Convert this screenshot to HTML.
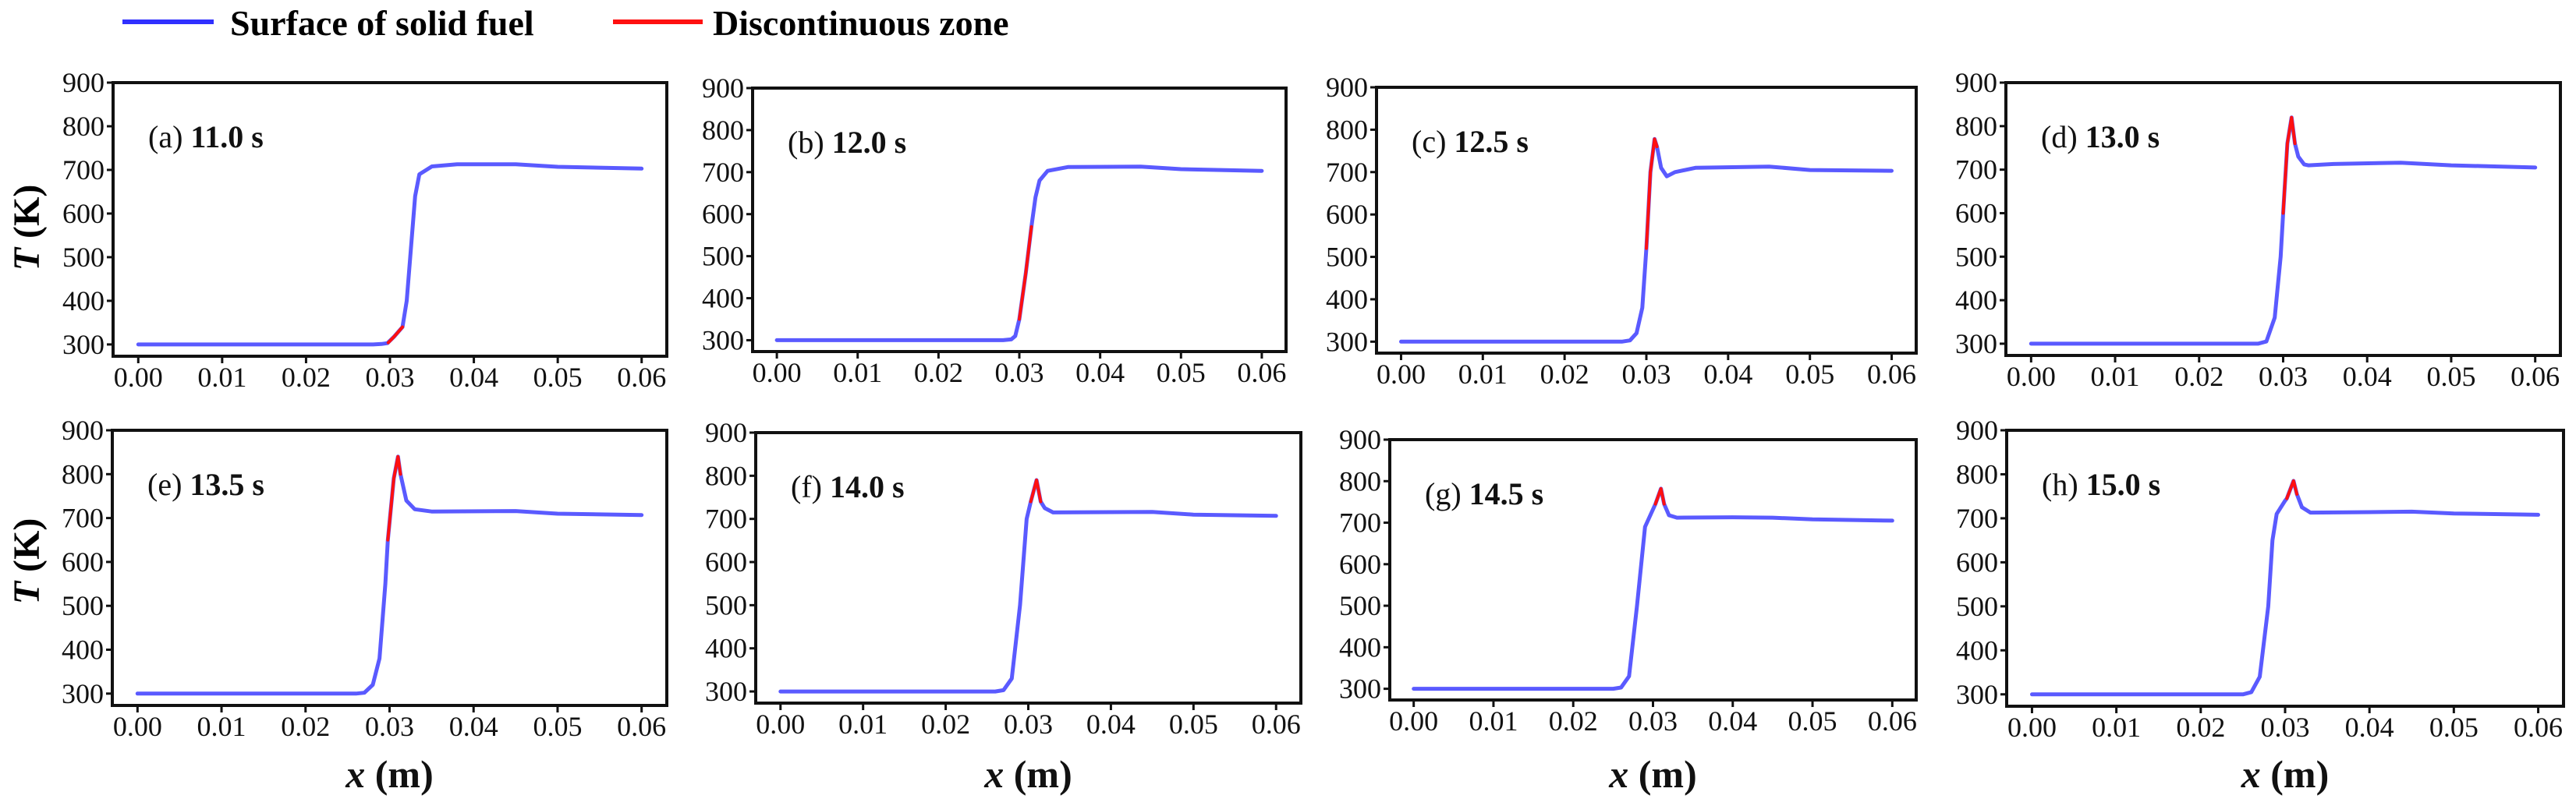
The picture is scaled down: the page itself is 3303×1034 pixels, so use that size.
<!DOCTYPE html>
<html><head><meta charset="utf-8"><style>
html,body{margin:0;padding:0;background:#fff;}
svg{display:block;font-family:"Liberation Serif",serif;}
</style></head><body>
<svg id="fig" width="3303" height="1034" viewBox="0 0 3303 1034" xmlns="http://www.w3.org/2000/svg">
  <g>
    <line x1="157" y1="28" x2="274" y2="28" stroke="#3030ff" stroke-width="6"/>
    <text x="295" y="45" font-size="46" font-weight="bold">Surface of solid fuel</text>
    <line x1="786" y1="28" x2="901" y2="28" stroke="#ff1010" stroke-width="6"/>
    <text x="914" y="45" font-size="46" font-weight="bold">Discontinuous zone</text>
  </g>
  <text transform="translate(50,292) rotate(-90)" text-anchor="middle" font-size="48" font-weight="bold"><tspan font-style="italic">T</tspan> (K)</text>
  <text transform="translate(50,720) rotate(-90)" text-anchor="middle" font-size="48" font-weight="bold"><tspan font-style="italic">T</tspan> (K)</text>
</svg>
<script>
const xTicks = [0, 0.01, 0.02, 0.03, 0.04, 0.05, 0.06];
const xTickLabels = ["0.00","0.01","0.02","0.03","0.04","0.05","0.06"];
const yTicks = [300, 400, 500, 600, 700, 800, 900];
const yTickLabels = ["300","400","500","600","700","800","900"];
const panelLabels = ["(a)","(b)","(c)","(d)","(e)","(f)","(g)","(h)"];
const panelTimes = ["11.0 s","12.0 s","12.5 s","13.0 s","13.5 s","14.0 s","14.5 s","15.0 s"];

const blueXa = [0,0.010,0.020,0.028,0.029,0.0297,0.0305,0.0315,0.0320,0.0325,0.0330,0.0335,0.0350,0.0380,0.0450,0.0500,0.0600];
const blueTa = [300,300,300,300,301,303,318,340,400,520,640,690,708,713,713,707,703];
const redXa = [0.0298,0.0305,0.0315];
const redTa = [304,318,340];

const blueXb = [0,0.010,0.020,0.028,0.029,0.0295,0.0300,0.0308,0.0315,0.0320,0.0325,0.0335,0.0360,0.0450,0.0500,0.0600];
const blueTb = [300,300,300,300,302,310,350,460,570,640,680,703,712,713,707,703];
const redXb = [0.0300,0.0308,0.0315];
const redTb = [350,460,570];

const blueXc = [0,0.010,0.020,0.027,0.028,0.0288,0.0295,0.0300,0.0305,0.0310,0.0313,0.0318,0.0325,0.0335,0.0360,0.0450,0.0500,0.0600];
const blueTc = [300,300,300,300,303,320,380,520,700,778,760,710,690,700,710,713,705,703];
const redXc = [0.0300,0.0305,0.0310,0.0313];
const redTc = [520,700,778,760];

const blueXd = [0,0.010,0.020,0.027,0.028,0.029,0.0297,0.0300,0.0305,0.0310,0.0314,0.0318,0.0325,0.0330,0.0360,0.0440,0.0500,0.0600];
const blueTd = [300,300,300,300,305,360,500,600,760,820,760,730,712,710,713,716,710,705];
const redXd = [0.0300,0.0305,0.0310,0.0314];
const redTd = [600,760,820,760];

const blueXe = [0,0.010,0.020,0.026,0.027,0.028,0.0288,0.0295,0.0298,0.0305,0.0310,0.0313,0.0320,0.0330,0.0350,0.0450,0.0500,0.0600];
const blueTe = [300,300,300,300,302,320,380,550,650,790,840,800,740,720,715,716,710,707];
const redXe = [0.0298,0.0305,0.0310,0.0313];
const redTe = [650,790,840,800];

const blueXf = [0,0.010,0.020,0.026,0.027,0.028,0.029,0.0298,0.0303,0.0310,0.0315,0.0320,0.0330,0.0450,0.0500,0.0600];
const blueTf = [300,300,300,300,303,330,500,700,740,790,740,725,715,716,710,707];
const redXf = [0.0303,0.0310,0.0315];
const redTf = [740,790,740];

const blueXg = [0,0.010,0.020,0.025,0.026,0.027,0.028,0.029,0.0303,0.0310,0.0314,0.0320,0.0330,0.0400,0.0450,0.0500,0.0600];
const blueTg = [300,300,300,300,303,330,500,690,745,782,745,718,712,713,712,708,705];
const redXg = [0.0303,0.0310,0.0314];
const redTg = [745,782,745];

const blueXh = [0,0.010,0.020,0.025,0.026,0.027,0.028,0.0285,0.029,0.0300,0.0302,0.0310,0.0314,0.0320,0.0330,0.0400,0.0450,0.0500,0.0600];
const blueTh = [300,300,300,300,305,340,500,650,710,740,745,785,755,725,713,714,715,711,708];
const redXh = [0.0302,0.0310,0.0314];
const redTh = [745,785,755];

const blueXs = [blueXa,blueXb,blueXc,blueXd,blueXe,blueXf,blueXg,blueXh];
const blueTs = [blueTa,blueTb,blueTc,blueTd,blueTe,blueTf,blueTg,blueTh];
const redXs = [redXa,redXb,redXc,redXd,redXe,redXf,redXg,redXh];
const redTs = [redTa,redTb,redTc,redTd,redTe,redTf,redTg,redTh];

const XMIN = -0.003, XMAX = 0.063, YMIN = 273, YMAX = 900;
// panel boxes [left, top, right, bottom]
const boxes = [
  [145,106,855,457],[965,113,1649,451],[1765,112,2457,453],[2572,106,3283,456],
  [144,552,855,905],[969,555,1668,902],[1782,564,2457,898],[2573,552,3287,906]
];
const NS = "http://www.w3.org/2000/svg";
const svg = document.getElementById('fig');
function mk(tag, attrs, parent){ const e=document.createElementNS(NS,tag); for(const k in attrs) e.setAttribute(k,attrs[k]); parent.appendChild(e); return e; }

boxes.forEach((b,i)=>{
  const [L,T,R,B]=b;
  const sx = v => L + (v-XMIN)/(XMAX-XMIN)*(R-L);
  const sy = v => B - (v-YMIN)/(YMAX-YMIN)*(B-T);
  const g = mk('g',{},svg);
  
  
  const frame = mk('rect',{x:L,y:T,width:R-L,height:B-T,fill:'none',stroke:'#111','stroke-width':4},g);
  
  
  xTicks.forEach((t,j)=>{
    const x=sx(t);
    const tk = mk('line',{x1:x,y1:B,x2:x,y2:B+9,stroke:'#111','stroke-width':3},g);
    
    
    const lb = mk('text',{x:x,y:B+39,'font-size':36,'text-anchor':'middle',fill:'#111'},g);
    lb.textContent = xTickLabels[j];
    
    
  });
  yTicks.forEach((t,j)=>{
    const y=sy(t);
    const tk = mk('line',{x1:L-8,y1:y,x2:L,y2:y,stroke:'#111','stroke-width':3},g);
    
    
    const lb = mk('text',{x:L-11,y:y+12,'font-size':36,'text-anchor':'end',fill:'#111'},g);
    lb.textContent = yTickLabels[j];
    
    
  });
  const bp = blueXs[i].map((x,k)=>sx(x).toFixed(1)+','+sy(blueTs[i][k]).toFixed(1)).join(' ');
  const bl = mk('polyline',{points:bp,fill:'none',stroke:'#5a5aff','stroke-width':5,'stroke-linejoin':'round','stroke-linecap':'round'},g);
  
  
  const rp = redXs[i].map((x,k)=>sx(x).toFixed(1)+','+sy(redTs[i][k]).toFixed(1)).join(' ');
  const rl = mk('polyline',{points:rp,fill:'none',stroke:'#ff1010','stroke-width':4,'stroke-linejoin':'round','stroke-linecap':'round'},g);
  
  
  const pl = mk('text',{x:L+45,y:T+83,'font-size':40,fill:'#111'},g);
  
  
  const t1 = mk('tspan',{},pl); t1.textContent = panelLabels[i]+' ';
  const t2 = mk('tspan',{'font-weight':'bold'},pl); t2.textContent = panelTimes[i];
  if(i>=4){
    const xt = mk('text',{x:(L+R)/2,y:1010,'font-size':50,'font-weight':'bold','text-anchor':'middle',fill:'#111'},svg);
    
    
    const a = mk('tspan',{'font-style':'italic'},xt); a.textContent='x';
    const c = mk('tspan',{},xt); c.textContent=' (m)';
  }
});
</script>
</body></html>
